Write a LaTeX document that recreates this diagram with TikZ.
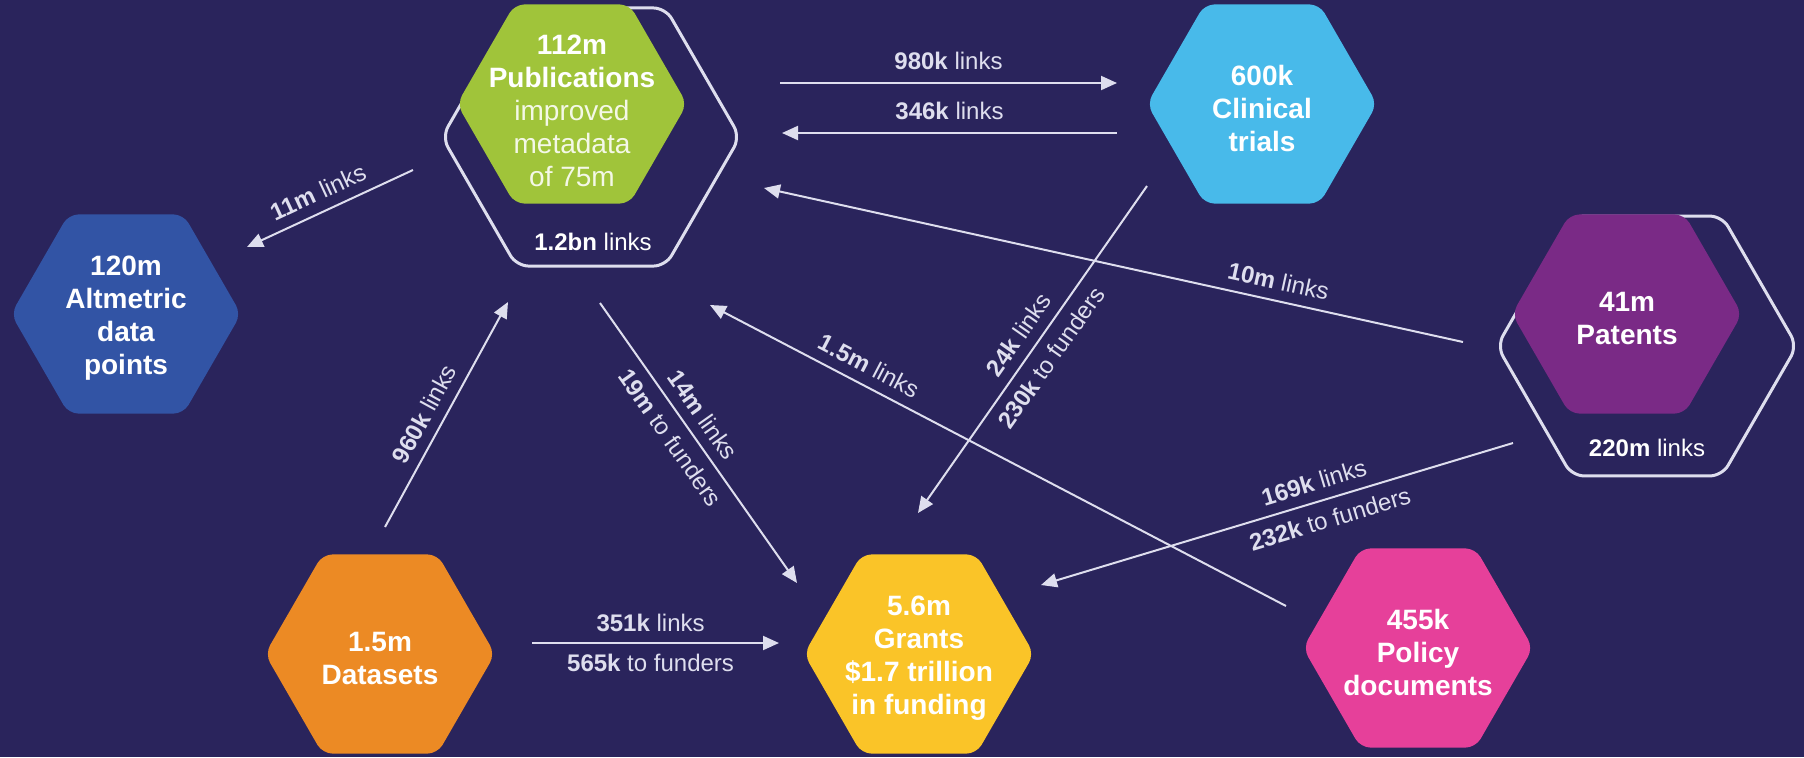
\documentclass[tikz,border=0pt]{standalone}
\usepackage{fontspec}
\setmainfont{Liberation Sans}
\usetikzlibrary{shapes.geometric}
\usetikzlibrary{arrows.meta}

\definecolor{bgnavy}{RGB}{42,36,92}
\definecolor{pubgreen}{RGB}{160,196,58}
\definecolor{altblue}{RGB}{50,84,165}
\definecolor{clinblue}{RGB}{72,186,234}
\definecolor{patpurple}{RGB}{122,42,134}
\definecolor{dataorange}{RGB}{236,138,36}
\definecolor{grantyellow}{RGB}{250,196,40}
\definecolor{policypink}{RGB}{230,64,154}
\definecolor{linkgrey}{RGB}{222,222,238}

\begin{document}
\begin{tikzpicture}[x=0.5pt,y=-0.5pt,
    hex/.style={regular polygon,regular polygon sides=6,minimum size=115pt,inner sep=0pt,rounded corners=5pt},
    ring/.style={regular polygon,regular polygon sides=6,inner sep=0pt,rounded corners=6pt,draw=linkgrey,line width=1.5pt},
    title/.style={text=white,align=center,yshift=-2pt,font=\fontsize{14}{16.5}\selectfont\bfseries},
    link/.style={draw=linkgrey,line width=1pt,>={Triangle[length=8pt,width=7pt]}},
    lbl/.style={text=linkgrey,inner sep=1pt,font=\fontsize{12}{14}\selectfont}]
    \fill[bgnavy] (0,0) rectangle (1804,757);
    \useasboundingbox (0,0) rectangle (1804,757);

    % outlines behind the two big ones
    \node[ring,minimum size=149pt] (pubring) at (591,137) {};
    \node[ring,minimum size=150pt] (patring) at (1647,346) {};

    \node[hex,fill=pubgreen] (pub) at (572,104) {};
    \node[hex,fill=altblue] (alt) at (126,314) {};
    \node[hex,fill=clinblue] (clin) at (1262,104) {};
    \node[hex,fill=patpurple] (pat) at (1627,314) {};
    \node[hex,fill=dataorange] (data) at (380,654) {};
    \node[hex,fill=grantyellow] (grant) at (919,654) {};
    \node[hex,fill=policypink] (pol) at (1418,648) {};

    \node[title,yshift=-1.5pt] (pubtxt) at (pub) {112m\\Publications\\{\mdseries\color{white!88!pubgreen}improved}\\{\mdseries\color{white!88!pubgreen}metadata}\\{\mdseries\color{white!88!pubgreen}of 75m}};
    \node[title] (alttxt) at (alt) {120m\\Altmetric\\data\\points};
    \node[title] (clintxt) at (clin) {600k\\Clinical\\trials};
    \node[title] (pattxt) at (pat) {41m\\Patents};
    \node[title] (datatxt) at (data) {1.5m\\Datasets};
    \node[title] (granttxt) at (grant) {5.6m\\Grants\\\$1.7 trillion\\in funding};
    \node[title] (poltxt) at (pol) {455k\\Policy\\documents};

    \node[lbl,text=white] (publinks) at (593,242) {\textbf{1.2bn} links};
    \node[lbl,text=white] (patlinks) at (1647,448) {\textbf{220m} links};

    % ends of the links
    \coordinate (pubE1) at (780,83);
    \coordinate (clinW1) at (1117,83);
    \coordinate (clinW2) at (1117,133);
    \coordinate (pubE2) at (782,133);
    \coordinate (pubSW) at (413,170);
    \coordinate (altNE) at (247,247);
    \coordinate (dataN) at (385,527);
    \coordinate (pubS1) at (508,302);
    \coordinate (pubS2) at (600,303);
    \coordinate (grantNW) at (797,583);
    \coordinate (clinS) at (1147,186);
    \coordinate (grantN) at (918,513);
    \coordinate (polNW) at (1286,606);
    \coordinate (pubS3) at (710,305);
    \coordinate (patW) at (1463,342);
    \coordinate (pubE3) at (764,188);
    \coordinate (patSW) at (1513,443);
    \coordinate (grantNE) at (1041,585);
    \coordinate (dataE) at (532,643);
    \coordinate (grantW) at (779,643);

    \draw[link,->] (pubE1) -- (clinW1) node[lbl,pos=0.5,above=5pt] (l980k) {\textbf{980k} links};
    \draw[link,->] (clinW2) -- (pubE2) node[lbl,pos=0.5,above=5pt] (l346k) {\textbf{346k} links};
    \draw[link,->] (pubSW) -- (altNE) node[lbl,sloped,pos=0.52,above=4pt] (l11m) {\textbf{11m} links};
    \draw[link,->] (dataN) -- (pubS1) node[lbl,sloped,pos=0.46,above=4pt] (l960k) {\textbf{960k} links};
    \draw[link,->] (pubS2) -- (grantNW)
        node[lbl,sloped,pos=0.44,above=4pt] (l14m) {\textbf{14m} links}
        node[lbl,sloped,pos=0.44,below=4pt] (l19m) {\textbf{19m} to funders};
    \draw[link,->] (clinS) -- (grantN)
        node[lbl,sloped,pos=0.49,above=4pt] (l24k) {\textbf{24k} links}
        node[lbl,sloped,pos=0.49,below=4pt] (l230k) {\textbf{230k} to funders};
    \draw[link,->] (polNW) -- (pubS3) node[lbl,sloped,pos=0.74,above=4pt] (l15m) {\textbf{1.5m} links};
    \draw[link,->] (patW) -- (pubE3) node[lbl,sloped,pos=0.27,above=4pt] (l10m) {\textbf{10m} links};
    \draw[link,->] (patSW) -- (grantNE)
        node[lbl,sloped,pos=0.41,above=4pt] (l169k) {\textbf{169k} links}
        node[lbl,sloped,pos=0.40,below=4pt] (l232k) {\textbf{232k} to funders};
    \draw[link,->] (dataE) -- (grantW)
        node[lbl,pos=0.48,above=4pt] (l351k) {\textbf{351k} links}
        node[lbl,pos=0.48,below=4pt] (l565k) {\textbf{565k} to funders};
\end{tikzpicture}
\end{document}
